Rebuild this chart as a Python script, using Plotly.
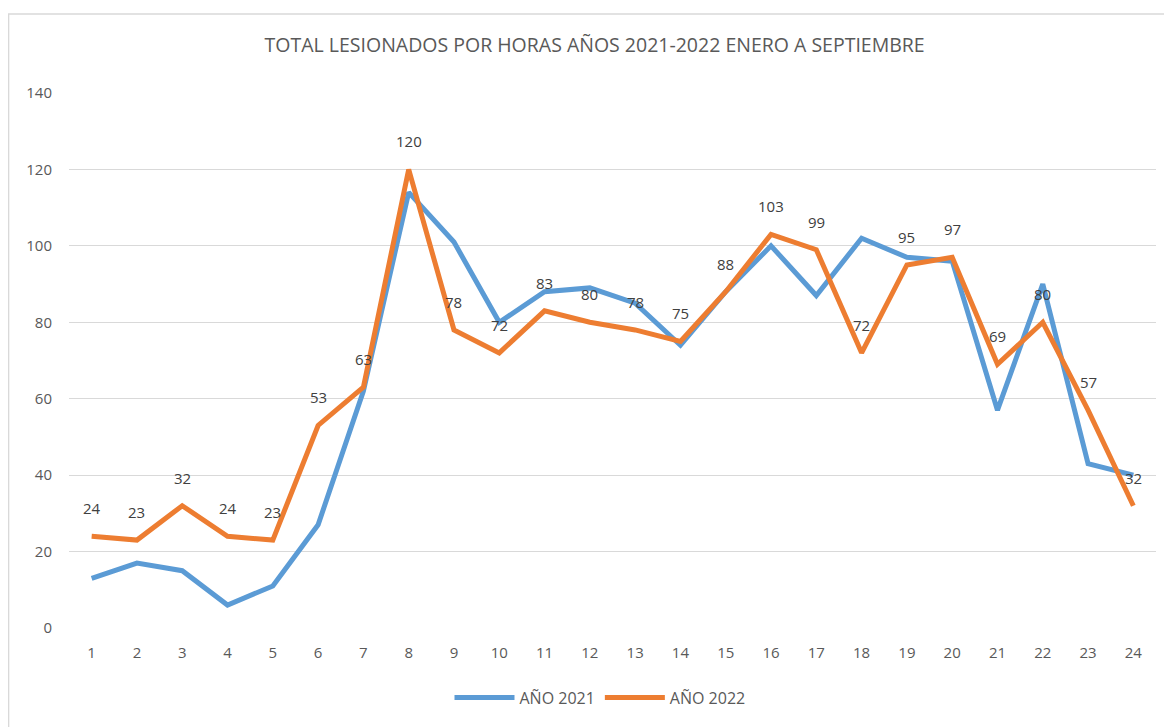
import plotly.graph_objects as go

hours = list(range(1, 25))
hour_labels = [str(h) for h in hours]
v2021 = [13, 17, 15, 6, 11, 27, 62, 114, 101, 80, 88, 89, 85, 74, 88, 100, 87, 102, 97, 96, 57, 90, 43, 40]
v2022 = [24, 23, 32, 24, 23, 53, 63, 120, 78, 72, 83, 80, 78, 75, 88, 103, 99, 72, 95, 97, 69, 80, 57, 32]
y_ticks = [0, 20, 40, 60, 80, 100, 120, 140]

FONT = "Open Sans, Lato, sans-serif"

fig = go.Figure()
fig.add_trace(go.Scatter(x=hours, y=v2021, mode="lines", name="AÑO 2021",
                         line=dict(color="#5B9BD5", width=5), hoverinfo="x+y"))
fig.add_trace(go.Scatter(x=hours, y=v2022, mode="lines", name="AÑO 2022",
                         line=dict(color="#ED7D31", width=5), hoverinfo="x+y"))

for h, v in zip(hours, v2022):
    fig.add_annotation(x=h, y=v, text=str(v), showarrow=False, yshift=28,
                       font=dict(family=FONT, size=15, color="#404040"))

fig.add_shape(type="rect", xref="paper", yref="paper",
              x0=-0.0556, x1=1.05, y0=-0.25, y1=1.1475,
              line=dict(color="#D9D9D9", width=1.5), layer="below")

fig.update_layout(
    width=1164, height=719,
    margin=dict(l=61, r=16, t=85, b=97),
    paper_bgcolor="white", plot_bgcolor="white",
    font=dict(family=FONT, size=15, color="#595959"),
    title=dict(text="TOTAL LESIONADOS POR HORAS AÑOS 2021-2022 ENERO A SEPTIEMBRE",
               x=0.504, xref="container", xanchor="center",
               y=1 - 37 / 719, yref="container", yanchor="middle",
               font=dict(family=FONT, size=19.5, color="#595959")),
    xaxis=dict(range=[0.5, 24.5], tickmode="array", tickvals=hours, ticktext=hour_labels,
               showgrid=False, zeroline=False, showline=False, ticks="",
               ticklabelstandoff=14, fixedrange=True),
    yaxis=dict(range=[0, 140], tickmode="array", tickvals=y_ticks,
               showgrid=True, gridcolor="#D9D9D9", gridwidth=1, zeroline=False,
               showline=False, ticks="", ticklabelstandoff=16, fixedrange=True),
    legend=dict(orientation="h", x=0.4885, xanchor="center", y=-0.13, yanchor="middle",
                font=dict(family=FONT, size=16, color="#595959"), itemwidth=60),
    showlegend=True,
)

fig.write_html("out.html")
